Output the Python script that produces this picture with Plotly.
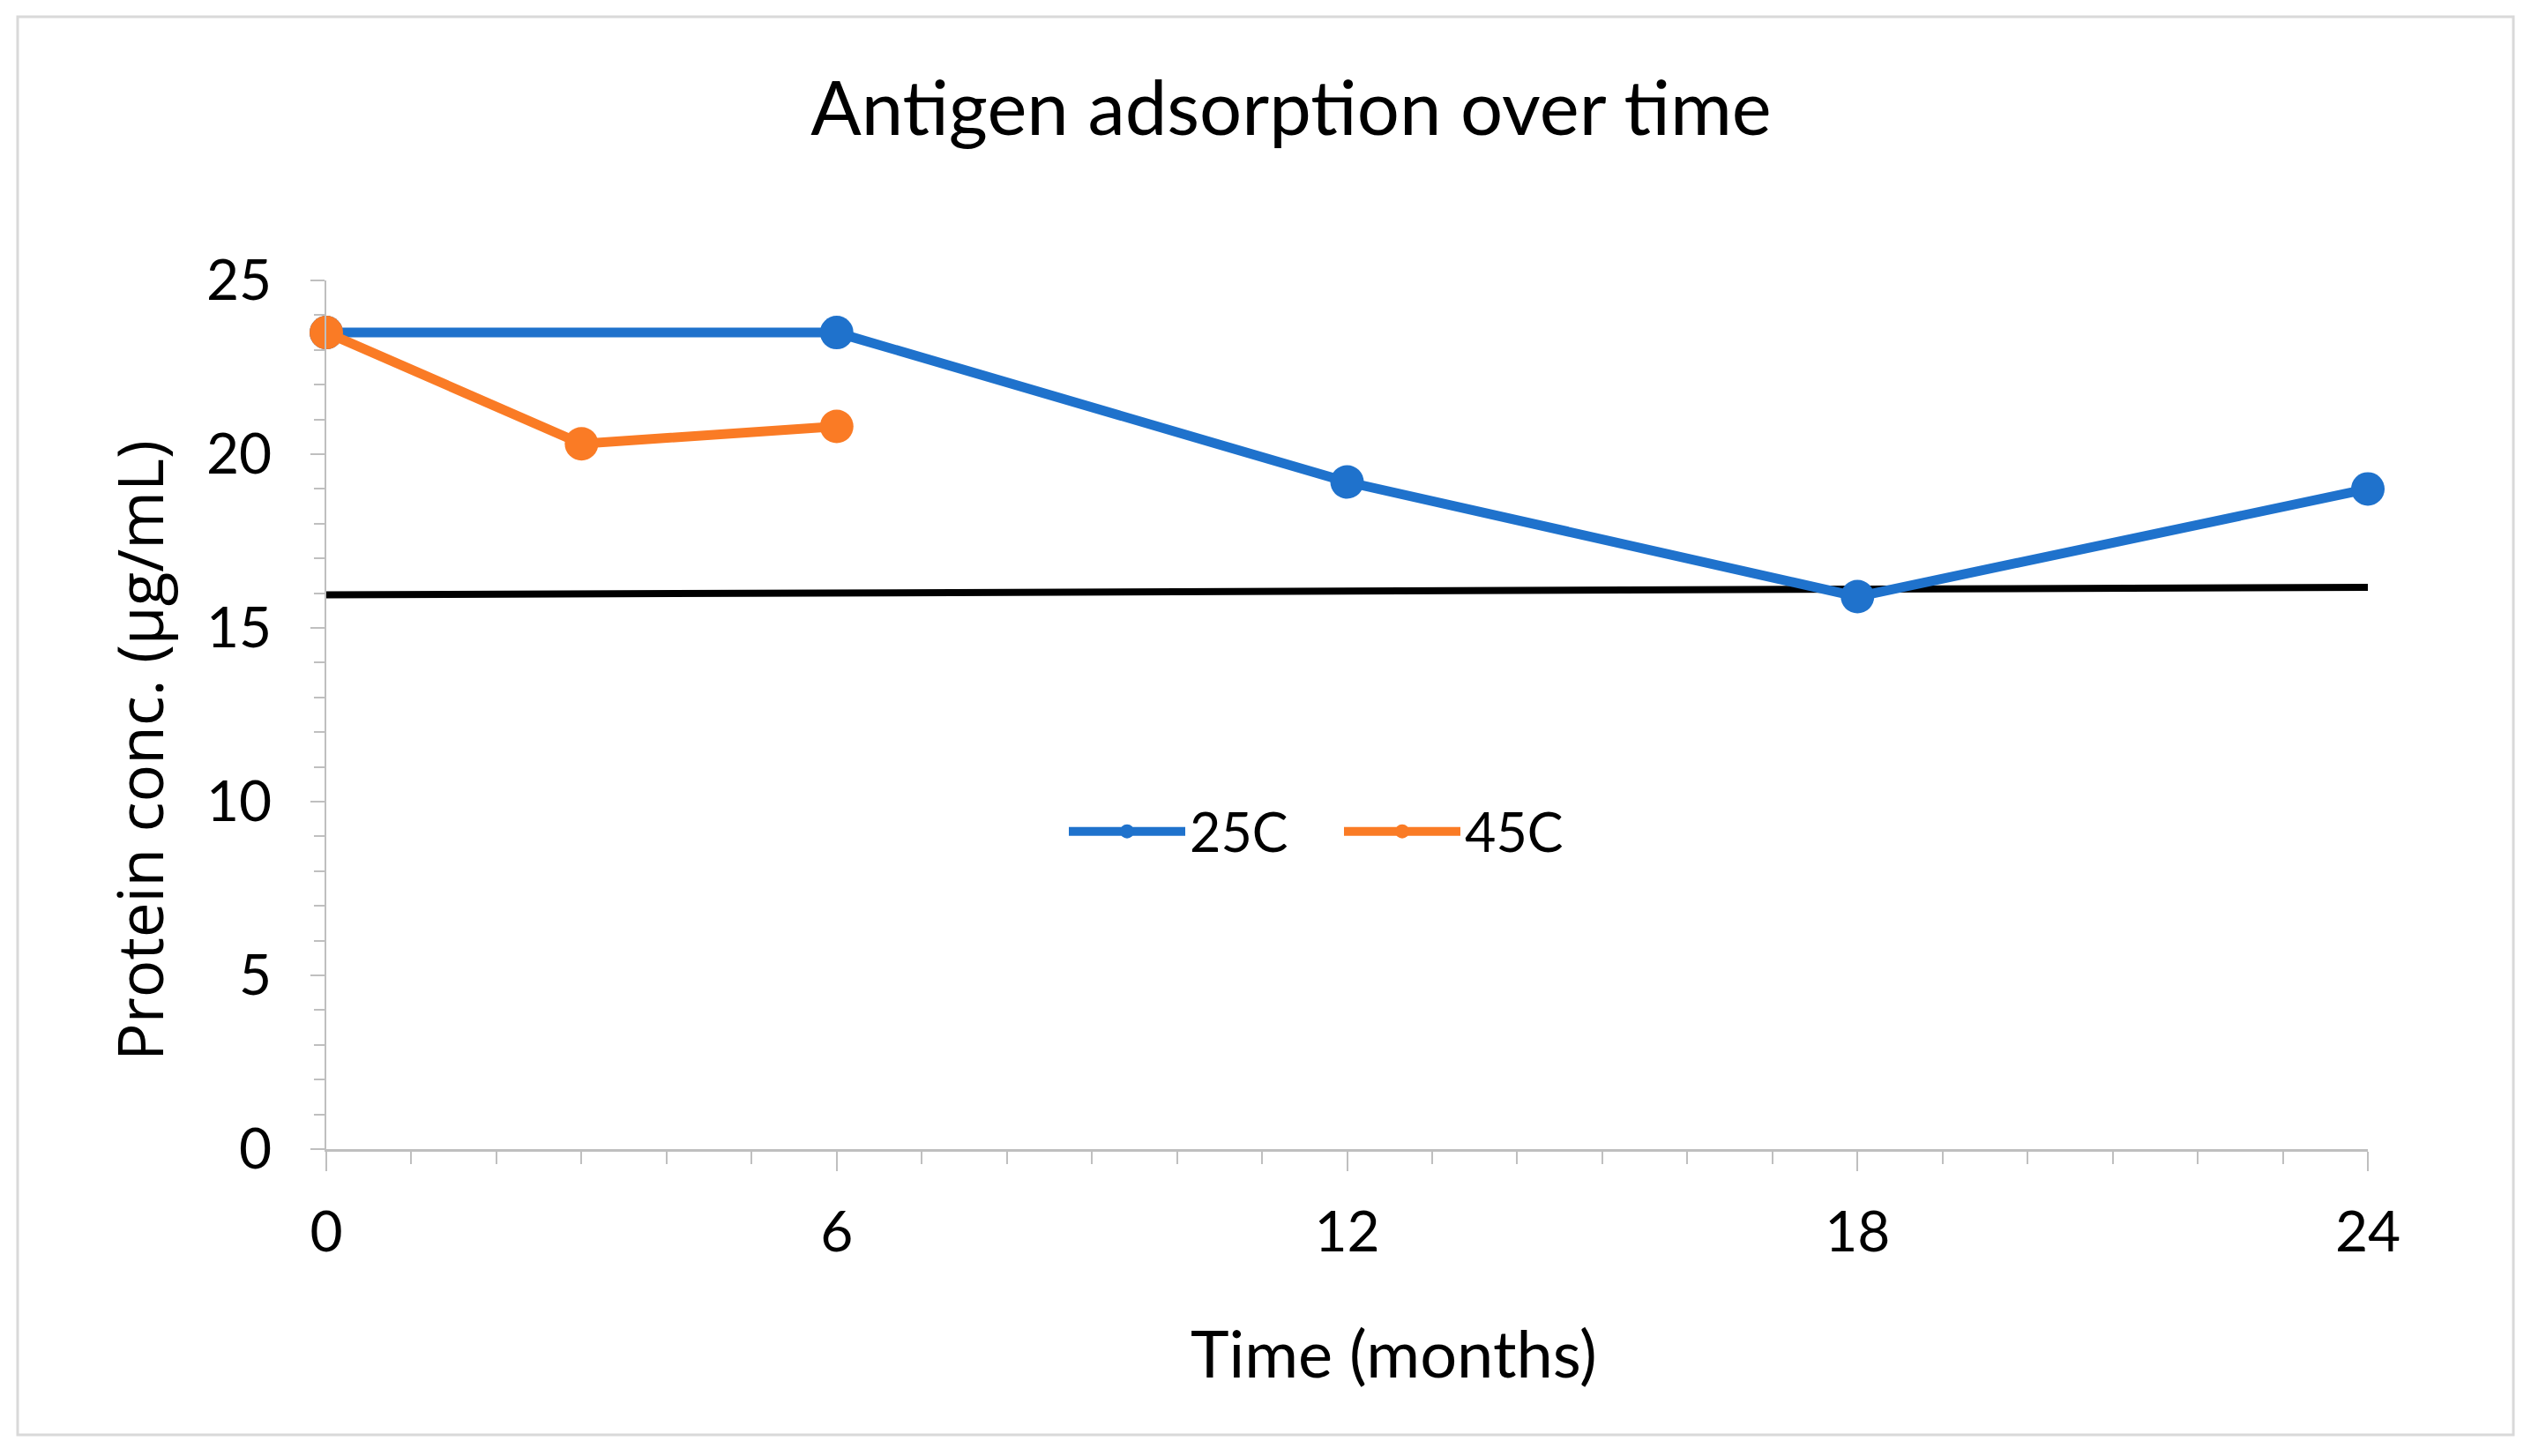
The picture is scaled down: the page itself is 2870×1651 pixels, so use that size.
import plotly.graph_objects as go

# ---- data ----
months_25c = [0, 6, 12, 18, 24]
conc_25c = [23.5, 23.5, 19.2, 15.9, 19.0]
months_45c = [0, 3, 6]
conc_45c = [23.5, 20.3, 20.8]
limit_x = [0, 24]
limit_y = [15.95, 16.17]

x_ticks = [0, 6, 12, 18, 24]
y_ticks = [0, 5, 10, 15, 20, 25]

title_text = "Antigen adsorption over time"
x_title = "Time (months)"
y_title = "Protein conc. (µg/mL)"

BLUE = "#1F72CC"
ORANGE = "#FA7B25"
GRID = "#BFBFBF"
FONT = "Lato"

W, H = 2870, 1651
L, R, T, B = 370, 185, 318, 348

fig = go.Figure()
fig.add_trace(go.Scatter(
    x=limit_x, y=limit_y, mode="lines",
    line=dict(color="black", width=8), showlegend=False, hoverinfo="skip"))
fig.add_trace(go.Scatter(
    x=months_25c, y=conc_25c, mode="lines+markers", name="25C",
    line=dict(color=BLUE, width=11), marker=dict(color=BLUE, size=38),
    cliponaxis=False))
fig.add_trace(go.Scatter(
    x=months_45c, y=conc_45c, mode="lines+markers", name="45C",
    line=dict(color=ORANGE, width=11), marker=dict(color=ORANGE, size=38),
    cliponaxis=False))

pw, ph = W - L - R, H - T - B
def px_to_paper(x, y):
    return (x - L) / pw, (H - B - y) / ph

leg_x, leg_y = px_to_paper(1207, 943)

fig.update_layout(
    width=W, height=H,
    margin=dict(l=L, r=R, t=T, b=B, pad=0),
    paper_bgcolor="white", plot_bgcolor="white",
    font=dict(family=FONT, color="black"),
    title=dict(text=title_text, font=dict(family=FONT, size=85, color="black"),
               x=1464 / W, xanchor="center", y=1 - 123 / H, yanchor="middle",
               xref="container", yref="container"),
    legend=dict(orientation="h", x=leg_x, xanchor="left", y=leg_y, yanchor="middle",
                font=dict(family=FONT, size=61, color="black"),
                bgcolor="rgba(0,0,0,0)", itemwidth=132, traceorder="normal",
                entrywidth=165, entrywidthmode="pixels"),
    showlegend=True,
)

fig.update_xaxes(
    range=[0, 24], tickmode="array", tickvals=x_ticks, ticktext=[str(v) for v in x_ticks],
    showgrid=False, zeroline=False, showline=True, linecolor=GRID, linewidth=3,
    ticks="outside", ticklen=22, tickwidth=2, tickcolor=GRID,
    tickfont=dict(family=FONT, size=64, color="black"), ticklabelstandoff=14,
    minor=dict(dtick=1, tick0=0, ticks="outside", ticklen=14, tickwidth=2, tickcolor=GRID, showgrid=False),
)
fig.update_yaxes(
    range=[0, 25], tickmode="array", tickvals=y_ticks, ticktext=[str(v) for v in y_ticks],
    showgrid=False, zeroline=False, showline=True, linecolor=GRID, linewidth=2,
    ticks="outside", ticklen=16, tickwidth=2, tickcolor=GRID,
    tickfont=dict(family=FONT, size=64, color="black"), ticklabelstandoff=31,
    minor=dict(dtick=1, tick0=0, ticks="outside", ticklen=12, tickwidth=2, tickcolor=GRID, showgrid=False),
)

xt_x, xt_y = px_to_paper(1580, 1534)
yt_x, yt_y = px_to_paper(157, 851)
fig.add_annotation(text=x_title, x=xt_x, y=xt_y, xref="paper", yref="paper",
                   xanchor="center", yanchor="middle", showarrow=False,
                   font=dict(family=FONT, size=74, color="black"))
fig.add_annotation(text=y_title, x=yt_x, y=yt_y, xref="paper", yref="paper",
                   xanchor="center", yanchor="middle", showarrow=False, textangle=-90,
                   font=dict(family="Open Sans", size=71, color="black"))

bx0, by0 = px_to_paper(20, 1627)
bx1, by1 = px_to_paper(2850, 19)
fig.add_shape(type="rect", xref="paper", yref="paper", x0=bx0, y0=by0, x1=bx1, y1=by1,
              line=dict(color="#D9D9D9", width=3), fillcolor="rgba(0,0,0,0)", layer="below")

fig.write_html("out.html",
               config={"displayModeBar": False},
               post_script="document.body.style.margin='0';document.body.style.overflow='hidden';")
